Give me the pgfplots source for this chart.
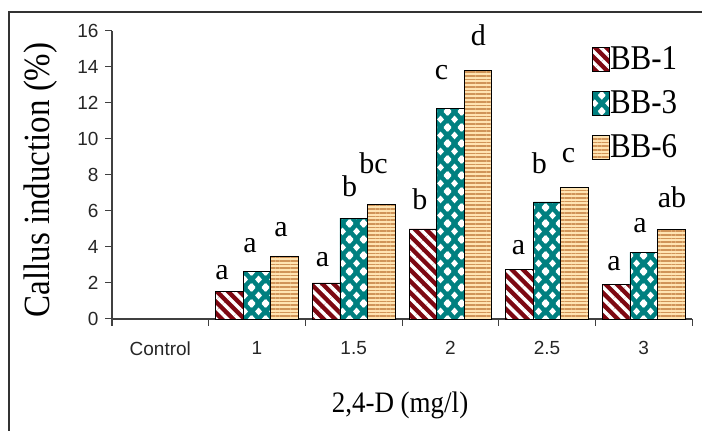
\documentclass[border=0pt]{standalone}
\usepackage{pgfplots}
\pgfplotsset{compat=1.18}
\usepackage{fontspec}
\usepackage{graphicx}
\setmainfont{Liberation Serif}
\newfontfamily\arial{Liberation Sans}
\usetikzlibrary{patterns.meta}

\definecolor{maroonc}{RGB}{125,8,18}
\definecolor{tealc}{RGB}{0,128,128}
\definecolor{tanc}{RGB}{255,228,178}
\definecolor{brownc}{RGB}{208,148,88}

\newcommand\diam[2]{%
  \pgfpathmoveto{\pgfpoint{#1pt-3.7pt}{#2pt}}%
  \pgfpathlineto{\pgfpoint{#1pt}{#2pt+4.1pt}}%
  \pgfpathlineto{\pgfpoint{#1pt+3.7pt}{#2pt}}%
  \pgfpathlineto{\pgfpoint{#1pt}{#2pt-4.1pt}}%
  \pgfpathclose}

\pgfdeclarepattern{
  name=diamondgrid,
  type=uncolored,
  bottom left={\pgfpoint{0pt}{0pt}},
  top right={\pgfpoint{14pt}{16pt}},
  tile size={\pgfpoint{14pt}{16pt}},
  code={%
    \diam{0}{0}\diam{14}{0}\diam{0}{16}\diam{14}{16}\diam{7}{8}%
    \pgfusepath{fill}%
  }
}

\begin{document}
\begin{tikzpicture}[x=1pt,y=1pt]
\useasboundingbox (0,0) rectangle (702,431);
\draw[line width=1.4pt, black!80] (9,-10) -- (9,419) -- (712,419);
\begin{axis}[
  at={(112pt,112pt)}, anchor=south west,
  scale only axis, width=580pt, height=288pt,
  xmin=-0.5, xmax=5.5, ymin=0, ymax=16,
  ytick={0,2,...,16},
  xtick={0,...,5},
  xticklabels={Control,1,1.5,2,2.5,3},
  minor xtick={-0.5,0.5,...,5.5},
  axis x line*=bottom, axis y line*=left,
  axis line style={-, line width=1.2pt, black!75},
  tick align=outside,
  major tick length=7pt, minor tick length=7pt,
  tick style={black!75, line width=1pt},
  major x tick style={draw=none},
  ticklabel style={font=\arial\fontsize{19}{20}\selectfont, text=black!85},
  /pgf/number format/assume math mode=true,
  xticklabel style={yshift=-12pt},
  yticklabel style={xshift=-3pt},
  ybar=0pt, bar width=27.5pt,
  clip=false,
  xlabel={\scalebox{1}[1.1]{2,4-D (mg/l)}},
  ylabel={\scalebox{1}[1.12]{Callus induction (\%)}},
  every axis x label/.style={at={(axis description cs:0.4966,-0.323)}, anchor=base, font=\fontsize{27}{27}\selectfont},
  every axis y label/.style={at={(axis description cs:-0.1069,0.4826)}, rotate=90, anchor=base, font=\fontsize{33}{33}\selectfont},
  legend style={at={(axis description cs:0.8276,0.949)}, anchor=north west, draw=none, fill=none,
    inner sep=0pt, row sep=17.5pt, font=\fontsize{31}{31}\selectfont,
    nodes={inner sep=0pt, text height=24pt, text depth=0pt}},
  legend cell align=left,
  /tikz/every even column/.append style={column sep=7pt},
  legend image code/.code={\draw[#1] (0pt,-14pt) rectangle (17pt,10pt);},
]
\addplot[draw=black, line width=0.8pt,
  preaction={fill=maroonc},
  preaction={pattern={Lines[angle=-45,distance=8pt,line width=3.4pt]}, pattern color=white}]
  coordinates {(1,1.55) (2,2.0) (3,5.0) (4,2.75) (5,1.9)};
\addlegendentry{\scalebox{1}[1.12]{BB-1}}
\addplot[draw=black, line width=0.8pt,
  preaction={fill=tealc},
  preaction={pattern=diamondgrid, pattern color=white}]
  coordinates {(1,2.65) (2,5.6) (3,11.7) (4,6.5) (5,3.7)};
\addlegendentry{\scalebox{1}[1.12]{BB-3}}
\addplot[draw=black, line width=0.8pt,
  preaction={fill=tanc},
  preaction={pattern={Lines[angle=0,distance=3.7pt,line width=1.7pt]}, pattern color=brownc}]
  coordinates {(1,3.5) (2,6.35) (3,13.8) (4,7.3) (5,4.95)};
\addlegendentry{\scalebox{1}[1.12]{BB-6}}

\tikzset{lt/.style={anchor=base, inner sep=0pt, font=\fontsize{30}{30}\selectfont}}
\node[lt] at (axis cs:0.638,2.17) {a};
\node[lt] at (axis cs:0.928,3.67) {a};
\node[lt] at (axis cs:1.248,4.60) {a};
\node[lt] at (axis cs:1.678,2.89) {a};
\node[lt] at (axis cs:1.957,6.78) {b};
\node[lt] at (axis cs:2.205,8.06) {bc};
\node[lt] at (axis cs:2.686,6.06) {b};
\node[lt] at (axis cs:2.909,13.28) {c};
\node[lt] at (axis cs:3.291,15.22) {d};
\node[lt] at (axis cs:3.705,3.56) {a};
\node[lt] at (axis cs:3.922,8.11) {b};
\node[lt] at (axis cs:4.222,8.67) {c};
\node[lt] at (axis cs:4.693,2.72) {a};
\node[lt] at (axis cs:4.962,4.83) {a};
\node[lt] at (axis cs:5.293,6.22) {ab};
\end{axis}
\end{tikzpicture}
\end{document}
